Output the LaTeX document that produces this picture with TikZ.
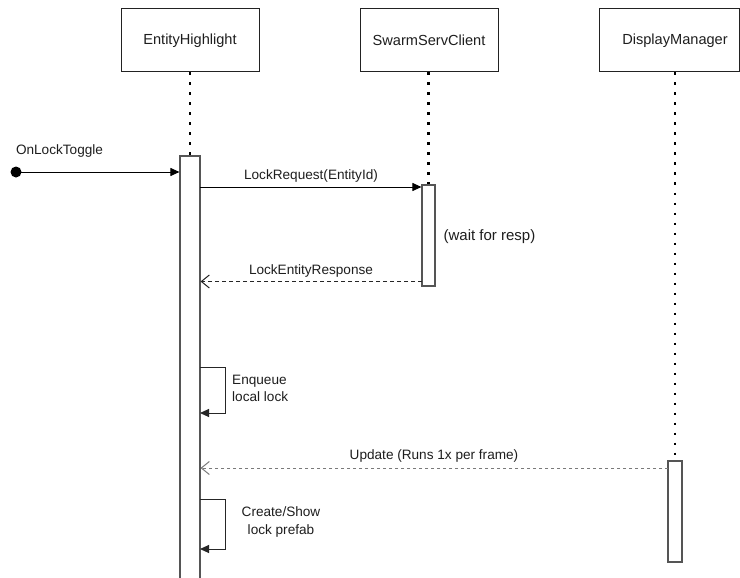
\documentclass[tikz,border=0pt]{standalone}
\usepackage{fontspec}
\setmainfont{Liberation Sans}
\usetikzlibrary{arrows.meta}
\definecolor{ink}{HTML}{1E1E1E}
\definecolor{boxline}{HTML}{222222}
\definecolor{actline}{HTML}{555555}
\definecolor{ghost}{HTML}{7A7A7A}
\begin{document}
\begin{tikzpicture}[x=1pt,y=-1pt,
  participant/.style={draw=boxline, line width=1pt, minimum width=138pt, minimum height=63pt,
    inner sep=0pt, text=ink, font=\fontsize{14.6}{17}\selectfont},
  activation/.style={draw=actline, line width=1.1pt, fill=white, inner sep=0pt},
  lifeline/.style={line width=2.2pt, dash pattern=on 2.2pt off 7.8pt, black},
  lbl/.style={text=ink, inner sep=0pt, font=\fontsize{13.6}{17.5}\selectfont},
  msg/.style={line width=1pt, black, -{Triangle[length=9pt,width=8pt]}},
  reply/.style={line width=1pt, black!85, dash pattern=on 4pt off 3pt, -{Straight Barb[length=8pt,width=13pt]}},
  tick/.style={line width=1pt, ghost, dash pattern=on 3pt off 3pt, -{Straight Barb[length=8pt,width=13pt]}},
  selfcall/.style={line width=1pt, black!85, -{Triangle[length=9pt,width=8pt]}}
]
\useasboundingbox[fill=white] (0,0) rectangle (740,578);

% participants
\node[participant] (eh) at (190,40.5) {EntityHighlight};
\node[participant] (ssc) at (429,40.5) {SwarmServClient};
\node[participant, minimum width=140pt] (dm) at (669,40.5) {};
\node[lbl, font=\fontsize{14.6}{17}\selectfont] (dmtitle) at (675,40.5) {DisplayManager};

% activation bars
\node[activation, minimum width=20pt, minimum height=440pt] (eha) at (190,376) {};
\node[activation, minimum width=13pt, minimum height=101pt] (ssa) at (428.5,235.5) {};
\node[activation, minimum width=14pt, minimum height=101pt] (dma) at (675,511.5) {};

% lifelines
\draw[lifeline] (eh.south) -- (eha.north);
\draw[lifeline] (ssa.north |- ssc.south) -- (ssa.north);
\draw[lifeline] (dma.north |- dm.south) -- (dma.north);

% incoming trigger
\node[circle, fill=black, inner sep=0pt, minimum size=11pt] (start) at (16,172) {};
\node[lbl] (toggle) at (59.5,151) {OnLockToggle};
\draw[msg] (start.center) -- (eha.west |- start);

% request / response
\coordinate (req) at (200,187);
\draw[msg] (req) -- (ssa.west |- req);
\node[lbl] (reqlbl) at (311,175.5) {LockRequest(EntityId)};
\node[lbl, font=\fontsize{15}{18}\selectfont] (wait) at (489.5,237) {(wait for resp)};
\coordinate (resp) at (422,281.5);
\draw[reply] (resp) -- (eha.east |- resp);
\node[lbl] (resplbl) at (311,271) {LockEntityResponse};

% enqueue self call
\coordinate (enq) at (200,367);
\coordinate (enqend) at (200,413);
\draw[selfcall] (enq) -- (225,367) -- (225,413) -- (enqend);
\node[lbl, align=left, anchor=west] (enqlbl) at (232,388.5) {Enqueue\\local lock};

% per-frame update
\coordinate (upd) at (668,468);
\draw[tick] (upd) -- (eha.east |- upd);
\node[lbl] (updlbl) at (434,456) {Update (Runs 1x per frame)};

% create / show self call
\coordinate (cs) at (200,499);
\coordinate (csend) at (200,549);
\draw[selfcall] (cs) -- (225,499) -- (225,549) -- (csend);
\node[lbl, align=center] (cslbl) at (281,522) {Create/Show\\lock prefab};
\end{tikzpicture}
\end{document}
